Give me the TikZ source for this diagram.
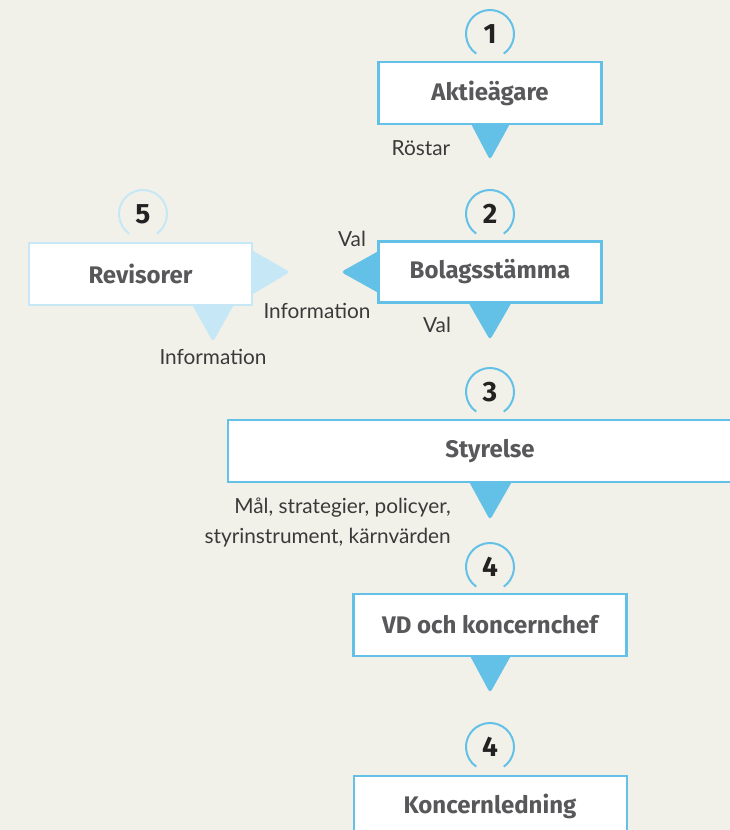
\documentclass[tikz,border=0pt]{standalone}
\usepackage{fontspec}
\setmainfont{Fira Sans}
\newfontfamily\labfont{Lato}
\usetikzlibrary{calc}
\definecolor{bgc}{HTML}{F2F1E9}
\definecolor{blu}{HTML}{63C1E8}
\definecolor{lblu}{HTML}{C6E8F6}
\definecolor{boxtxt}{HTML}{58585A}
\definecolor{numtxt}{HTML}{222222}
\definecolor{labtxt}{HTML}{3A3A3A}
\def\pu{0.75pt}
\tikzset{
  boxfont/.style={font=\fontsize{18}{20}\selectfont\bfseries},
  box/.style={draw=blu, line width=1.6pt, fill=white, inner sep=0pt,
    text=boxtxt, boxfont},
  lbox/.style={box, draw=lblu},
  boxlabel/.style={text=boxtxt, boxfont, inner sep=0pt},
  numb/.style={inner sep=0pt, text=numtxt, font=\fontsize{21}{22}\selectfont\bfseries},
  ring/.style={draw=blu, line width=1.5pt},
  lring/.style={draw=lblu, line width=1.5pt},
  tri/.style={fill=blu, rounded corners=2.5pt},
  ltri/.style={fill=lblu, rounded corners=2.5pt},
  lab/.style={inner sep=0pt, text=labtxt, font=\labfont\fontsize{15.6}{22.5}\selectfont},
}
\begin{document}
\begin{tikzpicture}[x=0.75pt,y=0.75pt]
\fill[bgc] (0,0) rectangle (730,-830);
\useasboundingbox (0,0) rectangle (730,-830);
\clip (0,0) rectangle (730,-830);

% number nodes
\node[numb] (n1) at (490,-34) {1};
\node[numb] (n2) at (490,-214) {2};
\node[numb] (n5) at (143,-214) {5};
\node[numb] (n3) at (490,-392) {3};
\node[numb] (n4a) at (490,-567) {4};
\node[numb] (n4b) at (490,-747) {4};

% rings
\foreach \n in {n1,n2,n3,n4a,n4b}{
  \draw[ring] ($(\n.center)+(-55:24)$) arc[start angle=-55, end angle=235, radius=24];
}
\draw[lring] ($(n5.center)+(-55:24)$) arc[start angle=-55, end angle=235, radius=24];

% box centres
\coordinate (aktc) at (490,-93);
\coordinate (bolc) at (490,-272);
\coordinate (revc) at (140.5,-274);
\coordinate (styc) at (490,-451);
\coordinate (vdc) at (490,-625);

% triangles
\fill[tri] (469,-120) -- (490,-160) -- (512,-120) -- cycle;
\fill[tri] (384,-248) -- (341,-272) -- (384,-296) -- cycle;
\fill[tri] (467,-300) -- (490,-340) -- (513,-300) -- cycle;
\fill[ltri] (248,-248) -- (290,-272) -- (248,-297) -- cycle;
\fill[ltri] (190,-301) -- (213,-342) -- (236,-301) -- cycle;
\fill[tri] (467,-478) -- (490,-520) -- (514,-478) -- cycle;
\fill[tri] (468,-652) -- (490,-693) -- (513,-652) -- cycle;

% boxes
\node[box, minimum width=223*\pu, minimum height=62*\pu] (akt) at (aktc) {Aktieägare};
\node[box, minimum width=223*\pu, minimum height=61*\pu] (bol) at (bolc) {Bolagsstämma};
\node[lbox, minimum width=223*\pu, minimum height=62*\pu] (rev) at (revc) {Revisorer};
\node[box, minimum width=540*\pu, minimum height=62*\pu, anchor=west] (sty) at (227,-451) {};
\node[boxlabel] (styt) at (styc) {Styrelse};
\node[box, minimum width=273*\pu, minimum height=62*\pu] (vd) at (vdc) {VD och koncernchef};
\node[box, minimum width=273*\pu, minimum height=80*\pu, anchor=north] (kl) at (490.5,-775) {};
\node[boxlabel] (klt) at (490,-806) {Koncernledning};

% labels
\node[lab] (l1) at (421,-148) {Röstar};
\node[lab] (l2) at (352,-239) {Val};
\node[lab] (l3) at (437,-325) {Val};
\node[lab] (l4) at (317,-311) {Information};
\node[lab] (l5) at (213,-357) {Information};
\node[lab, anchor=east, align=right] (l6) at (451,-522) {Mål, strategier, policyer,\\styrinstrument, kärnvärden};
\end{tikzpicture}
\end{document}
